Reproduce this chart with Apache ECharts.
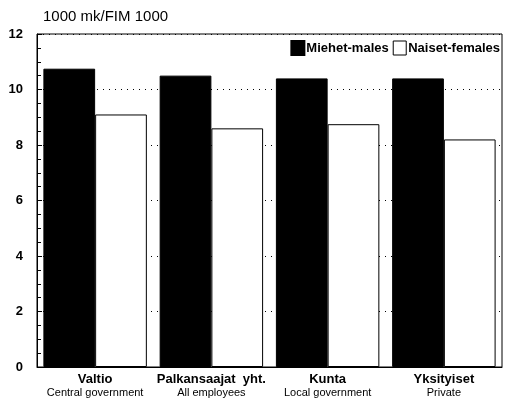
<!DOCTYPE html>
<html>
<head>
<meta charset="utf-8">
<script src="https://cdn.jsdelivr.net/npm/echarts@6/dist/echarts.min.js"></script>
<style>
  html, body { margin: 0; padding: 0; background: #fff; }
  #main { width: 505px; height: 401px; }
</style>
</head>
<body>
<div id="main"></div>
<script>
// luokat - categories (two-line labels)
var categoriesFi = ['Valtio', 'Palkansaajat  yht.', 'Kunta', 'Yksityiset'];
var categoriesEn = ['Central government', 'All employees', 'Local government', 'Private'];
// arvot, 1000 mk
var males = [10.75, 10.5, 10.4, 10.4];
var females = [9.1, 8.6, 8.75, 8.2];
var yTicks = [0, 2, 4, 6, 8, 10, 12];

var FONT = '"Liberation Sans", Arial, Helvetica, sans-serif';

var myChart = echarts.init(document.getElementById('main'), null, { renderer: 'canvas' });

var option = {
    animation: false,
    backgroundColor: '#fff',
    textStyle: { fontFamily: FONT, color: '#000' },
    title: {
        text: '1000 mk/FIM 1000',
        left: 38,
        top: 4,
        textStyle: { fontFamily: FONT, fontSize: 15, fontWeight: 'normal', color: '#000' }
    },
    legend: {
        right: 0,
        top: 35,
        itemWidth: 13,
        itemHeight: 14,
        itemGap: 4,
        textStyle: { fontFamily: FONT, fontSize: 13, fontWeight: 'bold', color: '#000', padding: [0, 0, 0, -3] },
        data: [
            { name: 'Miehet-males', icon: 'rect', itemStyle: { color: '#000' } },
            { name: 'Naiset-females', icon: 'rect', itemStyle: { color: '#fff', borderColor: '#000', borderWidth: 1 } }
        ]
    },
    grid: {
        left: 37,
        right: 3,
        top: 34,
        bottom: 34,
        show: true,
        borderColor: '#000',
        borderWidth: 1
    },
    xAxis: {
        type: 'category',
        data: categoriesFi.map(function (c, i) { return '{a|' + c + '}\n{b|' + categoriesEn[i] + '}'; }),
        axisLine: { lineStyle: { color: '#000', width: 1 } },
        axisTick: { show: false },
        axisLabel: {
            margin: 5,
            interval: 0,
            rich: {
                a: { fontFamily: FONT, fontSize: 13, fontWeight: 'bold', color: '#000', lineHeight: 14 },
                b: { fontFamily: FONT, fontSize: 11, fontWeight: 'normal', color: '#000', lineHeight: 14 }
            }
        }
    },
    yAxis: {
        type: 'value',
        min: yTicks[0],
        max: yTicks[yTicks.length - 1],
        interval: 2,
        axisLine: { show: true, lineStyle: { color: '#000', width: 1 } },
        axisTick: { show: true, inside: true, length: 5, lineStyle: { color: '#000' } },
        minorTick: { show: true, splitNumber: 4, length: 4, lineStyle: { color: '#000' } },
        axisLabel: { fontFamily: FONT, fontSize: 13, fontWeight: 'bold', color: '#000', margin: 14 },
        splitLine: { show: true, lineStyle: { color: '#000', type: [1, 5], width: 1 } }
    },
    series: [
        {
            name: 'Miehet-males',
            type: 'bar',
            data: males,
            barGap: '0%',
            barCategoryGap: '11%',
            itemStyle: { color: '#000', borderColor: '#000', borderWidth: 1 }
        },
        {
            name: 'Naiset-females',
            type: 'bar',
            data: females,
            barGap: '0%',
            barCategoryGap: '11%',
            itemStyle: { color: '#fff', borderColor: '#000', borderWidth: 1 }
        }
    ]
};

myChart.setOption(option);
</script>
</body>
</html>
